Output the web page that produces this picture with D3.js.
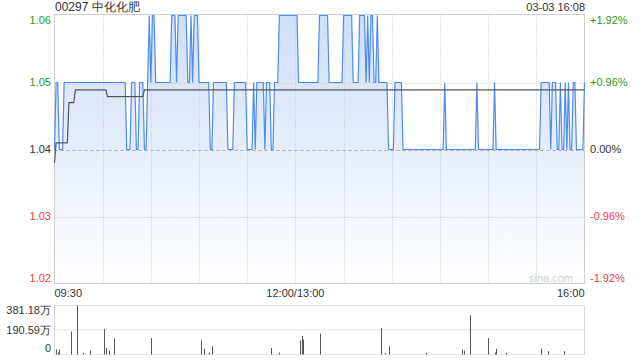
<!DOCTYPE html>
<html>
  <head>
    <meta charset="UTF-8" />
    <style>
      body {
        margin: 0;
        background: #fff;
        font-family: "Liberation Sans", Arial, sans-serif;
      }
      svg {
        display: block;
      }
    </style>
  </head>
  <body>
    <svg></svg>
    <script src="https://d3js.org/d3.v7.min.js"></script>
    <script>
      let width = 640,
        height = 360;

      // header texts
      let stockName = "00297 中化化肥";
      let stamp = "03-03 16:08";
      let prevClose = 1.04;

      // minute price as runs: [price, number of minutes]
      let priceRuns = [
        [1.04, 1], [1.05, 2], [1.04, 3], [1.05, 39], [1.04, 3], [1.05, 3],
        [1.04, 2], [1.05, 3], [1.04, 2], [1.05, 1], [1.06, 1], [1.05, 1],
        [1.06, 2], [1.05, 10], [1.06, 3], [1.05, 1], [1.06, 6], [1.05, 2],
        [1.06, 1], [1.05, 1], [1.06, 3], [1.05, 7], [1.04, 2], [1.05, 9],
        [1.04, 4], [1.05, 8], [1.04, 4], [1.05, 1], [1.04, 1], [1.05, 5],
        [1.04, 1], [1.05, 3], [1.04, 2], [1.05, 3], [1.06, 12], [1.05, 13],
        [1.06, 6], [1.05, 9], [1.06, 6], [1.05, 4], [1.06, 4], [1.05, 1],
        [1.06, 1], [1.05, 1], [1.06, 2], [1.05, 2], [1.06, 1], [1.05, 6],
        [1.04, 4], [1.05, 5], [1.04, 26], [1.05, 1], [1.04, 19], [1.05, 1],
        [1.04, 10], [1.05, 1], [1.04, 28], [1.05, 6], [1.04, 1], [1.05, 3],
        [1.04, 2], [1.05, 1], [1.04, 2], [1.05, 1], [1.04, 1], [1.05, 1],
        [1.04, 2], [1.05, 2], [1.04, 5], [1.05, 1],
      ];

      // average price: [minute, price]
      let avgPoints = [
        [0, 1.038], [1, 1.041], [8, 1.041], [9, 1.047], [12, 1.047],
        [13, 1.0489], [32, 1.0489], [33, 1.0479], [55, 1.0479],
        [56, 1.0489], [330, 1.0489],
      ];

      // volume (万): [minute, volume]
      let volBars = [
        [1, 40], [2, 15], [3, 38], [10, 178], [14, 381.18], [18, 12],
        [22, 30], [31, 198], [32, 51], [34, 30], [37, 124], [60, 128],
        [91, 109], [93, 45], [96, 15], [98, 63], [135, 51], [140, 15],
        [153, 109], [154, 145], [155, 117], [165, 162], [203, 206],
        [206, 12], [208, 63], [231, 12], [254, 40], [255, 30], [259, 305],
        [270, 128], [274, 15], [275, 45], [281, 12], [303, 45], [307, 25],
        [317, 25],
      ];

      let priceTicks = [1.02, 1.03, 1.04, 1.05, 1.06];
      let pctLabels = ["-1.92%", "-0.96%", "0.00%", "+0.96%", "+1.92%"];
      let timeLabels = [
        [0, "09:30"],
        [150, "12:00/13:00"],
        [330, "16:00"],
      ];
      let volTicks = [0, 190.59, 381.18];
      let volLabels = ["0", "190.59万", "381.18万"];

      let green = "#1f9b1f",
        red = "#f03c3c",
        dark = "#333";

      // expand runs into minute series
      let price = [];
      priceRuns.forEach((r) => {
        for (let i = 0; i < r[1]; i++) price.push([price.length, r[0]]);
      });

      let svg = d3
        .select("svg")
        .attr("width", width)
        .attr("height", height)
        .attr("viewBox", "0 0 " + width + " " + height);

      let x = d3.scaleLinear().domain([0, 330]).range([54.5, 584.5]);
      let y = d3.scaleLinear().domain([1.02, 1.06]).range([283.5, 15.5]);
      let vy = d3.scaleLinear().domain([0, 381.18]).range([354.5, 305.5]);

      function colorFor(v) {
        return v > prevClose ? green : v < prevClose ? red : dark;
      }

      //gradient for area
      let grad = svg
        .append("defs")
        .append("linearGradient")
        .attr("id", "fillGrad")
        .attr("gradientUnits", "userSpaceOnUse")
        .attr("x1", 0)
        .attr("y1", y(1.06))
        .attr("x2", 0)
        .attr("y2", y(1.02));
      grad.append("stop").attr("offset", 0).attr("stop-color", "#cfdff8");
      grad.append("stop").attr("offset", 0.5).attr("stop-color", "#e6eefb");
      grad.append("stop").attr("offset", 1).attr("stop-color", "#ffffff");

      //area under price
      svg
        .append("path")
        .datum(price)
        .attr("fill", "url(#fillGrad)")
        .attr(
          "d",
          d3
            .area()
            .x((d) => x(d[0]))
            .y0(y(1.02))
            .y1((d) => y(d[1]))
        );

      //vertical grid
      let vgrid = d3.range(30, 330, 30);
      svg
        .append("g")
        .selectAll("line")
        .data(vgrid)
        .enter()
        .append("line")
        .attr("x1", (d) => Math.round(x(d)) + 0.5)
        .attr("x2", (d) => Math.round(x(d)) + 0.5)
        .attr("y1", y(1.06))
        .attr("y2", y(1.02))
        .attr("stroke", "#c8c8c8")
        .attr("stroke-dasharray", "1,2");

      //horizontal grid
      svg
        .append("g")
        .selectAll("line")
        .data([1.03, 1.04, 1.05])
        .enter()
        .append("line")
        .attr("x1", x(0))
        .attr("x2", x(330))
        .attr("y1", (d) => Math.round(y(d)) + 0.5)
        .attr("y2", (d) => Math.round(y(d)) + 0.5)
        .attr("stroke", (d) => (d == prevClose ? "#aaa" : "#c8c8c8"))
        .attr("stroke-dasharray", (d) => (d == prevClose ? "3,3" : "1,2"));

      //border
      svg
        .append("rect")
        .attr("x", x(0))
        .attr("y", y(1.06) - 1)
        .attr("width", x(330) - x(0))
        .attr("height", y(1.02) - y(1.06) + 1)
        .attr("fill", "none")
        .attr("stroke", "#cfcfcf");

      //price line
      svg
        .append("path")
        .datum(price)
        .attr("fill", "none")
        .attr("stroke", "#4d8cf0")
        .attr("stroke-width", 1.2)
        .attr(
          "d",
          d3
            .line()
            .x((d) => x(d[0]))
            .y((d) => y(d[1]))
        );

      //average line
      svg
        .append("path")
        .datum(avgPoints)
        .attr("fill", "none")
        .attr("stroke", "#555")
        .attr("stroke-width", 1.2)
        .attr(
          "d",
          d3
            .line()
            .x((d) => x(d[0]))
            .y((d) => y(d[1]))
        );

      //left and right labels
      let labels = svg
        .append("g")
        .style("font-size", "11px")
        .style("font-family", '"Liberation Sans", Arial, sans-serif');

      function labelY(v, i, n) {
        let py = y(v);
        if (i == 0) return py - 5;
        if (i == n - 1) return py + 5;
        return py;
      }

      labels
        .selectAll(".lp")
        .data(priceTicks)
        .enter()
        .append("text")
        .attr("x", 51)
        .attr("y", (d, i) => labelY(d, i, priceTicks.length))
        .attr("dy", "0.35em")
        .attr("text-anchor", "end")
        .attr("fill", (d) => colorFor(d))
        .text((d) => d.toFixed(2));

      labels
        .selectAll(".rp")
        .data(priceTicks)
        .enter()
        .append("text")
        .attr("x", 590)
        .attr("y", (d, i) => labelY(d, i, priceTicks.length))
        .attr("dy", "0.35em")
        .attr("fill", (d) => colorFor(d))
        .text((d, i) => pctLabels[i]);

      //time labels
      labels
        .selectAll(".tl")
        .data(timeLabels)
        .enter()
        .append("text")
        .attr("x", (d) => x(d[0]))
        .attr("y", 293)
        .attr("dy", "0.35em")
        .attr("text-anchor", (d, i) =>
          i == 0 ? "start" : i == timeLabels.length - 1 ? "end" : "middle"
        )
        .attr("fill", dark)
        .text((d) => d[1]);

      //header
      svg
        .append("text")
        .attr("x", 55)
        .attr("y", 7)
        .attr("dy", "0.35em")
        .style("font-size", "12px")
        .attr("fill", dark)
        .text(stockName);

      svg
        .append("text")
        .attr("x", 585)
        .attr("y", 7)
        .attr("dy", "0.35em")
        .attr("text-anchor", "end")
        .style("font-size", "11px")
        .attr("fill", dark)
        .text(stamp);

      //watermark
      svg
        .append("text")
        .attr("x", 573)
        .attr("y", 278)
        .attr("dy", "0.35em")
        .attr("text-anchor", "end")
        .style("font-size", "11px")
        .attr("fill", "#cfcfcf")
        .text("sina.com");

      //volume panel grid
      svg
        .append("g")
        .selectAll("line")
        .data(volTicks)
        .enter()
        .append("line")
        .attr("x1", x(0))
        .attr("x2", x(330))
        .attr("y1", (d) => vy(d))
        .attr("y2", (d) => vy(d))
        .attr("stroke", "#c8c8c8")
        .attr("stroke-dasharray", "1,1");

      svg
        .append("g")
        .selectAll("line")
        .data([0, 330])
        .enter()
        .append("line")
        .attr("x1", (d) => x(d))
        .attr("x2", (d) => x(d))
        .attr("y1", vy(381.18))
        .attr("y2", vy(0))
        .attr("stroke", "#d6d6d6");

      //volume bars
      svg
        .append("g")
        .selectAll("rect")
        .data(volBars)
        .enter()
        .append("rect")
        .attr("x", (d) => Math.round(x(d[0])))
        .attr("y", (d) => vy(d[1]))
        .attr("width", 1)
        .attr("height", (d) => vy(0) - vy(d[1]))
        .attr("fill", "#555");

      //volume labels
      labels
        .selectAll(".vl")
        .data(volTicks)
        .enter()
        .append("text")
        .attr("x", 51)
        .attr("y", (d, i) => (i == 0 ? vy(d) - 6 : i == 2 ? vy(d) + 5 : vy(d)))
        .attr("dy", "0.35em")
        .attr("text-anchor", "end")
        .attr("fill", dark)
        .text((d, i) => volLabels[i]);
    </script>
  </body>
</html>
